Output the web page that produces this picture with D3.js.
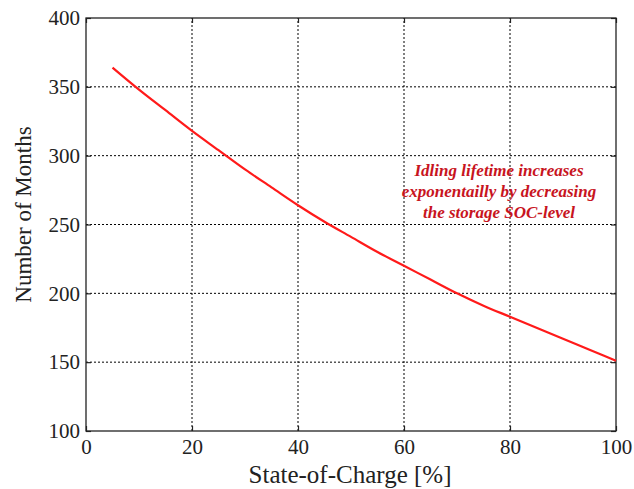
<!DOCTYPE html>
<html>
<head>
<meta charset="utf-8">
<script src="https://cdn.jsdelivr.net/npm/d3@7"></script>
<style>
  html, body { margin: 0; padding: 0; background: #fff; }
  svg { display: block; }
</style>
</head>
<body>
<svg id="chart" width="634" height="489"></svg>
<script>
// State-of-charge (%) and idling lifetime (months)
const socLevels = [5, 10, 15, 20, 25, 30, 35, 40, 45, 50, 55, 60, 65, 70, 75, 80, 85, 90, 95, 100];
const lifetimeMonths = [364, 348, 333, 318, 304, 290, 277, 264, 252, 241, 230, 220, 210, 200, 191, 183, 175, 167, 159, 151];
const xTicks = [0, 20, 40, 60, 80, 100];
const yTicks = [100, 150, 200, 250, 300, 350, 400];
const noteLines = ["Idling lifetime increases", "exponentailly by decreasing", "the storage SOC-level"];

const svg = d3.select("#chart");
const margin = { left: 86, right: 18, top: 18, bottom: 58 };
const W = 634, H = 489;
const x = d3.scaleLinear().domain([0, 100]).range([margin.left, W - margin.right]);
const y = d3.scaleLinear().domain([100, 400]).range([H - margin.bottom, margin.top]);

const serif = "'Liberation Serif', 'Times New Roman', serif";
const ink = "#222";

// dotted grid
const grid = svg.append("g");
grid.selectAll("line.gx").data(xTicks.slice(1, -1)).enter().append("line")
  .attr("x1", d => x(d)).attr("x2", d => x(d))
  .attr("y1", y(100)).attr("y2", y(400))
  .attr("stroke", "#000").attr("stroke-width", 1).attr("stroke-dasharray", "2,2");
grid.selectAll("line.gy").data(yTicks.slice(1, -1)).enter().append("line")
  .attr("x1", x(0)).attr("x2", x(100))
  .attr("y1", d => y(d)).attr("y2", d => y(d))
  .attr("stroke", "#000").attr("stroke-width", 1).attr("stroke-dasharray", "2,2");

// axes with inward ticks on all four sides
const tickLen = 5;
const xAxis = svg.append("g").attr("transform", `translate(0,${y(100)})`)
  .call(d3.axisBottom(x).tickValues(xTicks).tickSizeInner(-tickLen).tickSizeOuter(0).tickPadding(8));
const yAxis = svg.append("g").attr("transform", `translate(${x(0)},0)`)
  .call(d3.axisLeft(y).tickValues(yTicks).tickSizeInner(-tickLen).tickSizeOuter(0).tickPadding(6));
const xTop = svg.append("g").attr("transform", `translate(0,${y(400)})`)
  .call(d3.axisTop(x).tickValues(xTicks).tickSizeInner(-tickLen).tickSizeOuter(0).tickFormat(""));
const yRight = svg.append("g").attr("transform", `translate(${x(100)},0)`)
  .call(d3.axisRight(y).tickValues(yTicks).tickSizeInner(-tickLen).tickSizeOuter(0).tickFormat(""));
[xAxis, yAxis, xTop, yRight].forEach(g => {
  g.select(".domain").remove();
  g.selectAll(".tick line").attr("stroke", ink).attr("stroke-width", 1.2);
  g.selectAll(".tick text").attr("font-size", 21).attr("fill", ink).attr("font-family", serif);
});

// frame
svg.append("rect")
  .attr("x", x(0)).attr("y", y(400))
  .attr("width", x(100) - x(0)).attr("height", y(100) - y(400))
  .attr("fill", "none").attr("stroke", ink).attr("stroke-width", 1.3);

// lifetime curve
const line = d3.line().x((d, i) => x(socLevels[i])).y(d => y(d)).curve(d3.curveMonotoneX);
svg.append("path").datum(lifetimeMonths)
  .attr("d", line).attr("fill", "none")
  .attr("stroke", "#ff1a1a").attr("stroke-width", 2.2);

// annotation
const note = svg.append("text")
  .attr("x", 499).attr("y", 176)
  .attr("text-anchor", "middle")
  .attr("font-family", serif).attr("font-style", "italic").attr("font-weight", "bold")
  .attr("font-size", 17).attr("fill", "#c8141e");
noteLines.forEach((t, i) => {
  note.append("tspan").attr("x", 499).attr("dy", i === 0 ? 0 : 21).text(t);
});

// axis titles
svg.append("text")
  .attr("x", 350).attr("y", 483)
  .attr("text-anchor", "middle")
  .attr("font-family", serif).attr("font-size", 25).attr("fill", ink)
  .text("State-of-Charge [%]");
svg.append("text")
  .attr("transform", `translate(31,${(y(100) + y(400)) / 2 - 10}) rotate(-90)`)
  .attr("text-anchor", "middle")
  .attr("font-family", serif).attr("font-size", 23).attr("fill", ink)
  .text("Number of Months");
</script>
</body>
</html>
